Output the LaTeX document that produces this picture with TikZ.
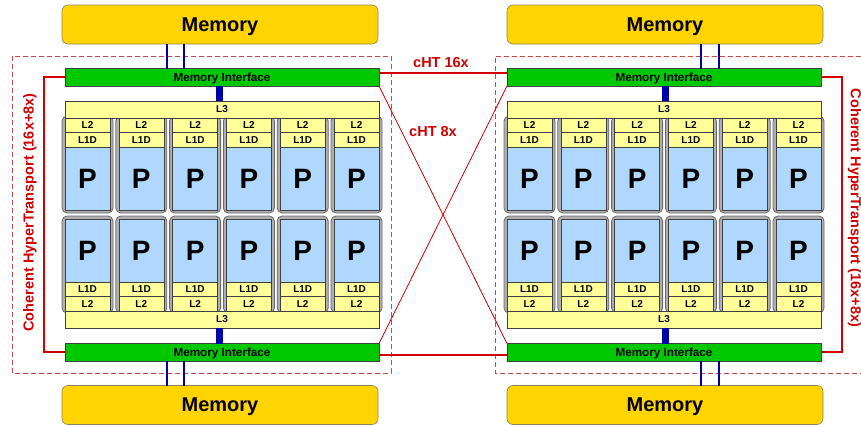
\documentclass[tikz,border=0pt]{standalone}
\usepackage{fontspec}
\setmainfont{Liberation Sans}
\usetikzlibrary{calc}
\definecolor{memfill}{RGB}{255,212,0}
\definecolor{memline}{RGB}{140,130,90}
\definecolor{migreen}{RGB}{0,200,0}
\definecolor{cachey}{RGB}{255,255,153}
\definecolor{pblue}{RGB}{176,216,255}
\definecolor{frameg}{RGB}{175,175,175}
\definecolor{framed}{RGB}{105,105,105}
\definecolor{htred}{RGB}{208,0,0}
\definecolor{dashred}{RGB}{205,70,70}
\definecolor{busblue}{RGB}{0,0,170}
\tikzset{
  box/.style={draw=black!75, line width=0.6pt, inner sep=0pt, outer sep=0pt, anchor=north west},
  mem/.style={box, draw=memline, fill=memfill, rounded corners=6pt, minimum width=316pt, minimum height=39pt, text depth=0pt, font=\fontsize{20}{22}\selectfont\bfseries},
  mi/.style={box, fill=migreen, minimum width=314pt, minimum height=17.5pt, text depth=0pt, font=\fontsize{11.7}{12}\selectfont\bfseries},
  lthree/.style={box, fill=cachey, minimum width=314pt, minimum height=17pt, font=\fontsize{10}{11}\selectfont\bfseries},
  cell/.style={box, fill=cachey, minimum width=45pt, minimum height=14.7pt, font=\fontsize{10}{11}\selectfont\bfseries},
  proc/.style={box, fill=pblue, minimum width=45pt, minimum height=63pt, font=\fontsize{28}{30}\selectfont\bfseries},
  coreframe/.style={draw=framed, fill=frameg, line width=0.8pt, rounded corners=5pt},
  bus/.style={draw=busblue, line width=2pt},
  fatbus/.style={draw=busblue, line width=7pt},
  htlink/.style={draw=htred, line width=2.2pt},
  htthin/.style={draw=htred, line width=0.8pt},
  htlabel/.style={text=htred, font=\fontsize{14.5}{16}\selectfont\bfseries, inner sep=0pt},
  socketbox/.style={draw=dashred, line width=0.8pt, dash pattern=on 5pt off 3pt},
}
\begin{document}
\begin{tikzpicture}[x=1pt, y=-1pt]
\useasboundingbox (0,0) rectangle (861,424);
\fill[white] (0,0) rectangle (861,424);

% dashed sockets
\draw[socketbox] (12,56) rectangle (391,373);
\draw[socketbox] (861,56) -- (495,56) -- (495,373) -- (861,373);

% cores
\foreach \side/\X in {l/65, r/507} {
  \foreach \i in {0,...,5} {
    \pgfmathsetmacro\cx{\X+53.8*\i}
    \draw[coreframe] (\cx-3,116) rectangle (\cx+48,213);
    \draw[coreframe] (\cx-3,216) rectangle (\cx+48,313);
    \node[cell] (\side-l2t-\i) at (\cx,118) {L2};
    \node[cell] (\side-l1t-\i) at (\cx,132.7) {L1D};
    \node[proc] (\side-pt-\i) at (\cx,147.4) {P};
    \node[proc] (\side-pb-\i) at (\cx,219) {P};
    \node[cell] (\side-l1b-\i) at (\cx,282) {L1D};
    \node[cell] (\side-l2b-\i) at (\cx,296.7) {L2};
  }
}

% L3 caches
\node[lthree] (l-l3t) at (65,101) {L3};
\node[lthree] (l-l3b) at (65,311) {L3};
\node[lthree] (r-l3t) at (507,101) {L3};
\node[lthree] (r-l3b) at (507,311) {L3};

% memory interfaces
\node[mi] (l-mit) at (65,68.5) {Memory Interface};
\node[mi] (l-mib) at (65,343.5) {Memory Interface};
\node[mi] (r-mit) at (507,68.5) {Memory Interface};
\node[mi] (r-mib) at (507,343.5) {Memory Interface};

% memories
\node[mem] (l-memt) at (62,5) {Memory};
\node[mem] (l-memb) at (62,385.5) {Memory};
\node[mem] (r-memt) at (507,5) {Memory};
\node[mem] (r-memb) at (507,385.5) {Memory};

% buses memory <-> interface
\foreach \s/\a/\b in {l/102/119, r/194/212} {
  \draw[bus] ([xshift=\a pt]\s-mit.north west) -- ([xshift=\a pt]\s-mit.north west |- \s-memt.south);
  \draw[bus] ([xshift=\b pt]\s-mit.north west) -- ([xshift=\b pt]\s-mit.north west |- \s-memt.south);
  \draw[bus] ([xshift=\a pt]\s-mib.south west) -- ([xshift=\a pt]\s-mib.south west |- \s-memb.north);
  \draw[bus] ([xshift=\b pt]\s-mib.south west) -- ([xshift=\b pt]\s-mib.south west |- \s-memb.north);
}
% interface <-> L3
\draw[fatbus] ([xshift=-2.5pt]l-mit.south) -- ([xshift=-2.5pt]l-l3t.north);
\draw[fatbus] ([xshift=-2.5pt]l-mib.north) -- ([xshift=-2.5pt]l-l3b.south);
\draw[fatbus] ([xshift=1.5pt]r-mit.south) -- ([xshift=1.5pt]r-l3t.north);
\draw[fatbus] ([xshift=1.5pt]r-mib.north) -- ([xshift=1.5pt]r-l3b.south);

% coherent HT brackets
\draw[htlink] (l-mit.west) -- ++(-21,0) |- ([yshift=0.5pt]l-mib.west);
\draw[htlink] (r-mit.east) -- ++(21,0) |- ([yshift=0.5pt]r-mib.east);
\node[htlabel, rotate=90] (l-htlabel) at (30,212.5) {Coherent HyperTransport (16x+8x)};
\node[htlabel, rotate=-90] (r-htlabel) at (854.5,208) {Coherent HyperTransport (16x+8x)};

% cHT links between sockets
\draw[htlink] ([yshift=-4.5pt]l-mit.north east) -- ([yshift=-4.5pt]r-mit.north west);
\draw[htlink] ([yshift=6pt]l-mib.south east) -- ([yshift=6pt]r-mib.south west);
\draw[htthin] (l-mit.south east) -- (r-mib.north west);
\draw[htthin] (l-mib.north east) -- (r-mit.south west);
\node[htlabel] (cht16) at (441,63) {cHT 16x};
\node[htlabel] (cht8) at (433,132) {cHT 8x};
\end{tikzpicture}
\end{document}
